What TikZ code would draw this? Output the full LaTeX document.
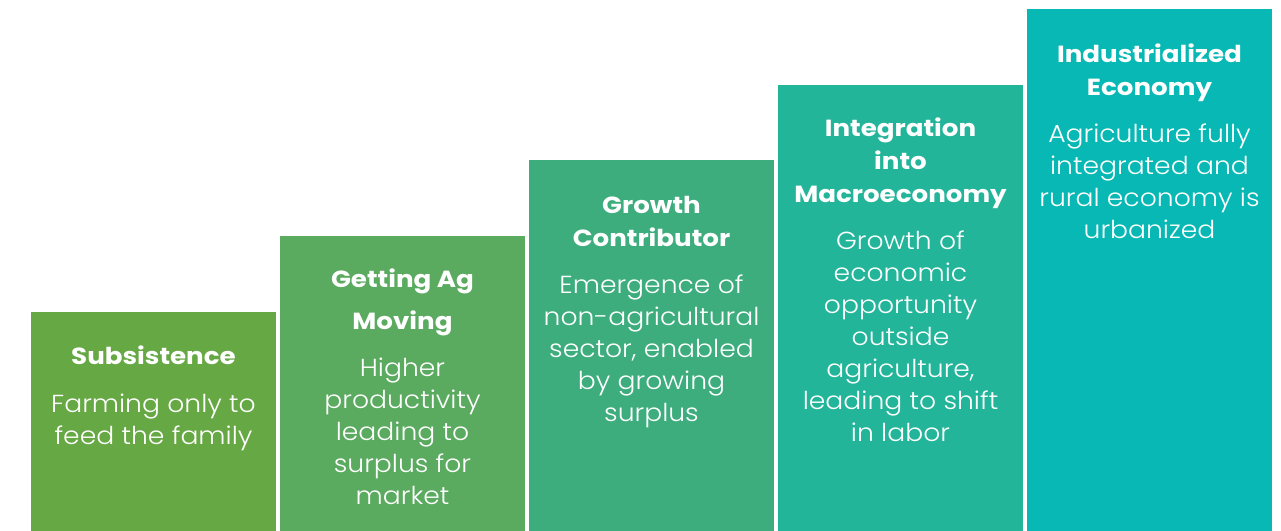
\documentclass[tikz,border=0pt]{standalone}
\usepackage{fontspec}
\setmainfont{Poppins}[FakeStretch=1.12]
\newfontfamily\lightfont{Poppins}[UprightFont=* Light, FakeStretch=1.08]
\usepackage{tikz}

\definecolor{stageA}{HTML}{66A843}
\definecolor{stageB}{HTML}{5AAA5F}
\definecolor{stageC}{HTML}{3DAD7D}
\definecolor{stageD}{HTML}{22B59A}
\definecolor{stageE}{HTML}{07B8B5}

\begin{document}
\begin{tikzpicture}[x=0.75pt,y=0.75pt,
        bar/.style={rectangle, anchor=south west, inner sep=0pt, minimum width=183.75pt},
        head/.style={anchor=base, align=center, text=white, inner sep=0pt,
            font=\bfseries\fontsize{17.5}{24.75}\selectfont},
        body/.style={anchor=base, align=center, text=white, inner sep=0pt,
            font=\lightfont\fontsize{18.5}{24}\selectfont},
    ]

    \useasboundingbox (0,0) rectangle (1281,531);

    \node[bar, fill=stageA, minimum height=164.25pt] (sub) at (31,0) {};
    \node[bar, fill=stageB, minimum height=221.25pt] (ag) at (280,0) {};
    \node[bar, fill=stageC, minimum height=278.25pt] (grow) at (529,0) {};
    \node[bar, fill=stageD, minimum height=334.5pt] (macro) at (778,0) {};
    \node[bar, fill=stageE, minimum height=391.5pt] (ind) at (1027,0) {};

    % base anchor sits on the last line
    \node[head] (subT) at (153.5,166) {Subsistence};
    \node[head, font=\bfseries\fontsize{17.5}{31.5}\selectfont] (agT) at (402.5,201) {Getting Ag\\Moving};
    \node[head] (growT) at (651.5,284) {Growth\\Contributor};
    \node[head] (macroT) at (900.5,328) {Integration\\into\\Macroeconomy};
    \node[head] (indT) at (1149.5,435) {Industrialized\\Economy};

    \node[body] (subB) at (153.5,86) {Farming only to\\feed the family};
    \node[body] (agB) at (402.5,26) {Higher\\productivity\\leading to\\surplus for\\market};
    \node[body] (growB) at (651.5,109) {Emergence of\\non-agricultural\\sector, enabled\\by growing\\surplus};
    \node[body] (macroB) at (900.5,89) {Growth of\\economic\\opportunity\\outside\\agriculture,\\leading to shift\\in labor};
    \node[body] (indB) at (1149.5,292) {Agriculture fully\\integrated and\\rural economy is\\urbanized};
\end{tikzpicture}
\end{document}
